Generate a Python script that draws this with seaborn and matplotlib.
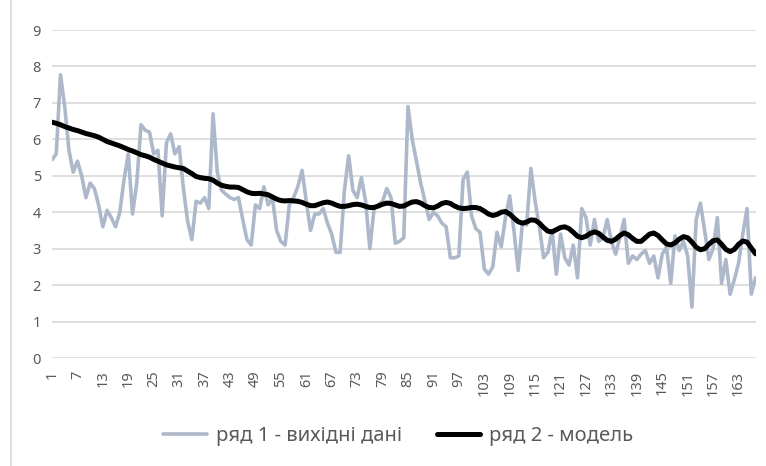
import numpy as np
import pandas as pd
import seaborn as sns
import matplotlib.pyplot as plt
from matplotlib.lines import Line2D

# Data
raw_values = [
    5.44, 5.6, 7.77, 6.9, 5.7, 5.1, 5.4, 5.0, 4.4, 4.8,
    4.65, 4.2, 3.6, 4.05, 3.85, 3.6, 4.0, 4.9, 5.6, 3.95,
    4.8, 6.4, 6.25, 6.2, 5.6, 5.7, 3.9, 5.9, 6.15, 5.6,
    5.8, 4.66, 3.75, 3.25, 4.3, 4.25, 4.4, 4.1, 6.7, 5.1,
    4.6, 4.5, 4.4, 4.35, 4.4, 3.8, 3.25, 3.1, 4.2, 4.1,
    4.7, 4.2, 4.4, 3.5, 3.2, 3.1, 4.2, 4.4, 4.7, 5.15,
    4.3, 3.5, 3.95, 3.95, 4.1, 3.7, 3.4, 2.9, 2.9, 4.6,
    5.55, 4.6, 4.4, 4.95, 4.3, 3.0, 4.1, 4.2, 4.3, 4.65,
    4.4, 3.15, 3.2, 3.3, 6.9, 6.0, 5.4, 4.8, 4.3, 3.8,
    4.0, 3.9, 3.7, 3.6, 2.75, 2.75, 2.8, 4.9, 5.1, 3.9,
    3.55, 3.45, 2.45, 2.3, 2.5, 3.45, 3.05, 3.85, 4.45, 3.5,
    2.4, 3.7, 3.65, 5.2, 4.3, 3.6, 2.75, 2.9, 3.5, 2.3,
    3.4, 2.75, 2.55, 3.1, 2.2, 4.1, 3.85, 3.1, 3.8, 3.2,
    3.3, 3.8, 3.2, 2.85, 3.3, 3.8, 2.6, 2.8, 2.7, 2.85,
    2.95, 2.6, 2.8, 2.2, 2.85, 3.05, 2.05, 3.35, 2.95, 3.2,
    2.8, 1.4, 3.8, 4.25, 3.5, 2.7, 3.0, 3.85, 2.05, 2.7,
    1.75, 2.15, 2.6, 3.4, 4.1, 1.75, 2.2,
]
model_values = [
    6.47, 6.44, 6.40, 6.35, 6.31, 6.27, 6.24, 6.20, 6.16, 6.13,
    6.10, 6.06, 6.00, 5.94, 5.90, 5.86, 5.82, 5.77, 5.72, 5.68,
    5.63, 5.58, 5.55, 5.51, 5.45, 5.40, 5.35, 5.30, 5.27, 5.24,
    5.22, 5.20, 5.13, 5.06, 4.98, 4.95, 4.93, 4.92, 4.88, 4.80,
    4.74, 4.71, 4.69, 4.69, 4.68, 4.62, 4.56, 4.52, 4.51, 4.52,
    4.50, 4.48, 4.42, 4.36, 4.32, 4.31, 4.32, 4.31, 4.30, 4.27,
    4.22, 4.18, 4.18, 4.22, 4.26, 4.28, 4.25, 4.20, 4.16, 4.16,
    4.18, 4.21, 4.22, 4.20, 4.16, 4.13, 4.13, 4.17, 4.22, 4.25,
    4.24, 4.20, 4.16, 4.17, 4.23, 4.28, 4.29, 4.25, 4.18, 4.13,
    4.12, 4.17, 4.24, 4.27, 4.24, 4.17, 4.12, 4.10, 4.11, 4.13,
    4.13, 4.10, 4.03, 3.95, 3.91, 3.94, 4.00, 4.02, 3.95, 3.84,
    3.74, 3.70, 3.73, 3.79, 3.78, 3.70, 3.58, 3.48, 3.46, 3.52,
    3.58, 3.60, 3.55, 3.45, 3.34, 3.30, 3.34, 3.42, 3.46, 3.42,
    3.32, 3.23, 3.20, 3.26, 3.36, 3.43, 3.38, 3.28, 3.20, 3.20,
    3.30, 3.40, 3.43, 3.36, 3.24, 3.13, 3.10, 3.16, 3.26, 3.33,
    3.30, 3.18, 3.04, 2.97, 3.00, 3.12, 3.22, 3.24, 3.12, 2.98,
    2.92, 2.98, 3.12, 3.21, 3.18, 3.02, 2.86,
]
x_index = list(range(1, len(raw_values) + 1))
x_ticks = list(range(1, len(raw_values) + 1, 6))
y_ticks = list(range(0, 10))

label_raw = "ряд 1 - вихідні дані"
label_model = "ряд 2 - модель"

df = pd.DataFrame({"x": x_index, "raw": raw_values, "model": model_values})

sns.set_theme(style="white")
plt.rcParams["font.family"] = ["Noto Sans", "DejaVu Sans"]

text_color = "#595959"
grid_color = "#D9D9D9"

fig = plt.figure(figsize=(7.66, 4.66), dpi=100)
ax = fig.add_axes([52 / 766, 108 / 466, (755.5 - 52) / 766, (358 - 30) / 466])

sns.lineplot(data=df, x="x", y="raw", ax=ax, color="#ADB9CA", linewidth=2.6,
             label=label_raw)
sns.lineplot(data=df, x="x", y="model", ax=ax, color="black", linewidth=3.6,
             label=label_model)

ax.set_xlim(1, len(raw_values))
ax.set_ylim(0, 9)
ax.set_yticks(y_ticks)
ax.set_xticks(x_ticks)
ax.set_xticklabels([str(t) for t in x_ticks], rotation=90)
ax.set_xlabel("")
ax.set_ylabel("")
ax.grid(axis="y", color=grid_color, linewidth=1.2)
ax.set_axisbelow(True)
for s in ax.spines.values():
    s.set_visible(False)
ax.tick_params(axis="both", length=0, colors=text_color, labelsize=10.5)
ax.tick_params(axis="y", pad=8)
ax.tick_params(axis="x", pad=9)

leg = ax.legend(loc="center", bbox_to_anchor=(0.52, 0.064), bbox_transform=fig.transFigure,
                ncol=2, frameon=False, fontsize=14.5, handlelength=2.15,
                handletextpad=0.45, columnspacing=1.75)
for t in leg.get_texts():
    t.set_color(text_color)

# chart area border on the left side
fig.add_artist(Line2D([11 / 766, 11 / 766], [0, 1], color=grid_color, linewidth=1.2))

fig.savefig("out.png", dpi=100)
